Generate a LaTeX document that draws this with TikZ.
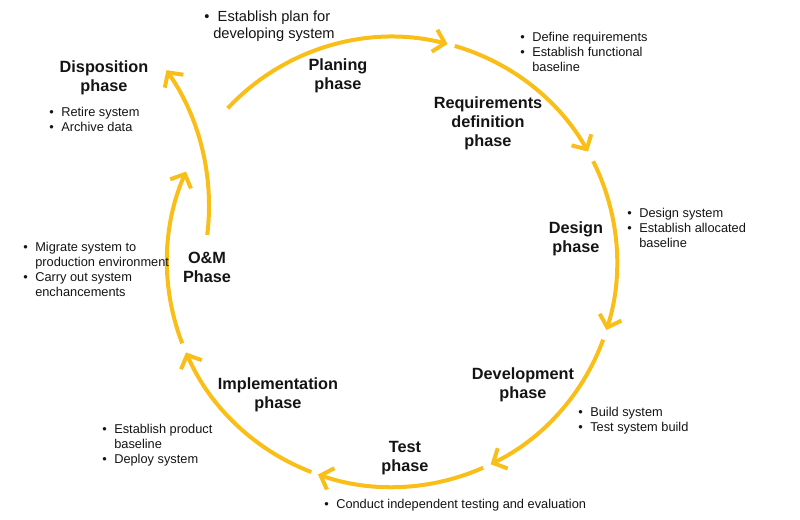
\documentclass[tikz,border=0pt]{standalone}
\usepackage{fontspec}
\setmainfont{Liberation Sans}
\usetikzlibrary{arrows.meta}
\definecolor{Cycle}{RGB}{250,190,24}
\definecolor{Ink}{RGB}{20,20,20}
\newcommand{\bitem}[1]{\makebox[9pt][l]{\textbullet}#1}
\newcommand{\bmore}[1]{\hspace*{9pt}#1}

\begin{document}
\begin{tikzpicture}[x=0.75pt,y=-0.75pt,
  cyc/.style={draw=Cycle,line width=3pt,-{Straight Barb[length=8pt,width=17pt]}},
  phase/.style={font=\bfseries\fontsize{12.2}{14.2}\selectfont,text=Ink,align=center,inner sep=0pt},
  notes/.style={font=\fontsize{9.6}{11.25}\selectfont,text=Ink,align=left,anchor=north west,inner sep=0pt}]
  \useasboundingbox (0,0) rectangle (800,519);
  \coordinate (c) at (392,262);
  \coordinate (dc) at (-29,206);
  \draw[cyc] (c) ++(-136.9:225) arc[start angle=-136.9,end angle=-75.7,radius=225];
  \draw[cyc] (c) ++(-73.8:225) arc[start angle=-73.8,end angle=-29.4,radius=225];
  \draw[cyc] (c) ++(-26.6:225) arc[start angle=-26.6,end angle=17.6,radius=225];
  \draw[cyc] (c) ++(20.2:225) arc[start angle=20.2,end angle=64,radius=225];
  \draw[cyc] (c) ++(66.1:225) arc[start angle=66.1,end angle=109.2,radius=225];
  \draw[cyc] (c) ++(111:225) arc[start angle=111,end angle=156.3,radius=225];
  \draw[cyc] (c) ++(158.8:225) arc[start angle=158.8,end angle=203.7,radius=225];
  \draw[cyc] (dc) ++(7:238) arc[start angle=7,end angle=-34.8,radius=238];

  \node[phase] (plan) at (338,76) {Planing\\phase};
  \node[phase] (req) at (488,123) {Requirements\\definition\\phase};
  \node[phase] (design) at (576,239) {Design\\phase};
  \node[phase] (dev) at (523,385) {Development\\phase};
  \node[phase] (test) at (405,458) {Test\\phase};
  \node[phase] (impl) at (278,395) {Implementation\\phase};
  \node[phase] (om) at (207,267) {O\&M\\Phase};
  \node[phase] (disp) at (104,78) {Disposition\\phase};

  \node[notes,font=\fontsize{11}{12.75}\selectfont,align=center,anchor=north] (plan-n) at (274,11)
    {\llap{\makebox[10pt][l]{\textbullet}}Establish plan for\\developing system};
  \node[notes] (req-n) at (520,32)
    {\bitem{Define requirements}\\\bitem{Establish functional}\\\bmore{baseline}};
  \node[notes] (design-n) at (627,208)
    {\bitem{Design system}\\\bitem{Establish allocated}\\\bmore{baseline}};
  \node[notes] (dev-n) at (578,407)
    {\bitem{Build system}\\\bitem{Test system build}};
  \node[notes] (test-n) at (324,499)
    {\bitem{Conduct independent testing and evaluation}};
  \node[notes] (impl-n) at (102,424)
    {\bitem{Establish product}\\\bmore{baseline}\\\bitem{Deploy system}};
  \node[notes] (om-n) at (23,242)
    {\bitem{Migrate system to}\\\bmore{production environment}\\\bitem{Carry out system}\\\bmore{enchancements}};
  \node[notes] (disp-n) at (49,107)
    {\bitem{Retire system}\\\bitem{Archive data}};
\end{tikzpicture}
\end{document}
